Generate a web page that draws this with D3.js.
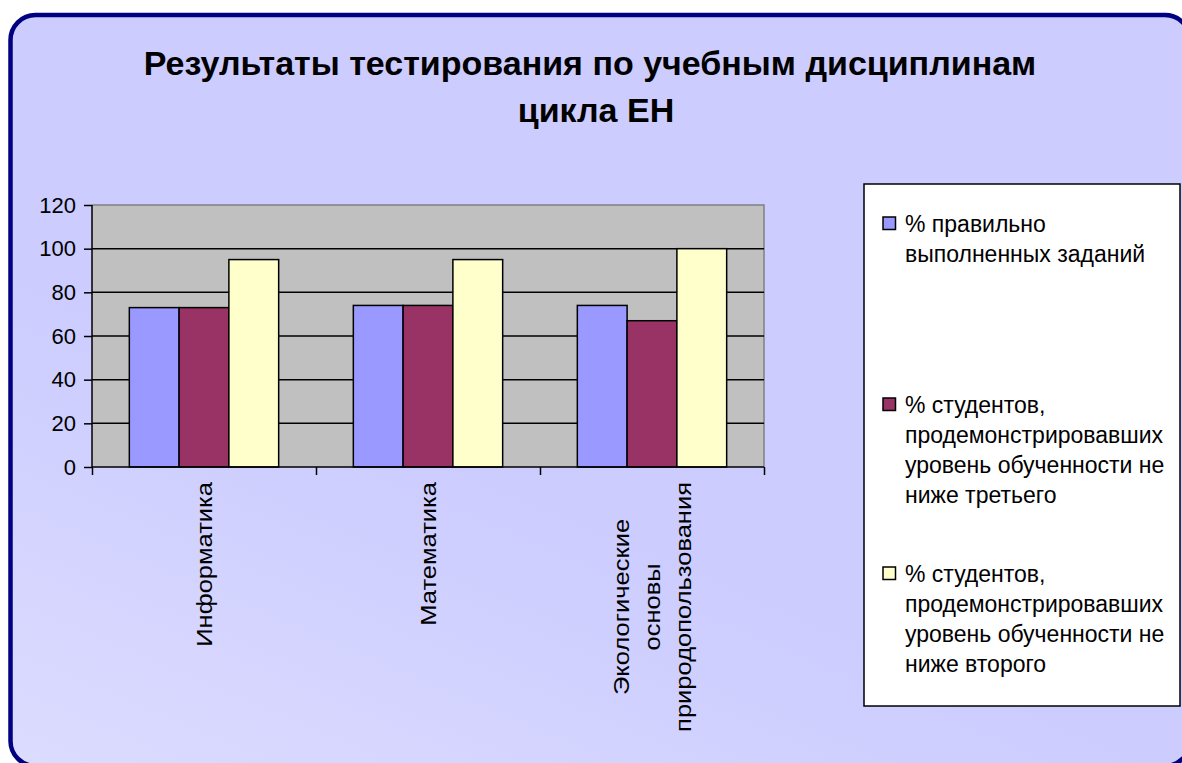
<!DOCTYPE html>
<html lang="ru">
<head>
    <meta charset="UTF-8" />
    <title>Результаты тестирования</title>
    <script src="https://d3js.org/d3.v7.min.js"></script>
    <style>
        body { margin: 0; background: #fff; }
        svg text { font-family: "Liberation Sans", Arial, sans-serif; fill: #000; }
    </style>
</head>
<body>
    <script>
        var W = 1182, H = 763;

        var categories = ["Информатика", "Математика", "Экологические основы природопользования"];
        var categoryLines = [["Информатика"], ["Математика"], ["Экологические", "основы", "природопользования"]];
        var seriesNames = [
            "% правильно выполненных заданий",
            "% студентов, продемонстрировавших уровень обученности не ниже третьего",
            "% студентов, продемонстрировавших уровень обученности не ниже второго"
        ];
        var legendLines = [
            ["% правильно", "выполненных заданий"],
            ["% студентов,", "продемонстрировавших", "уровень обученности не", "ниже третьего"],
            ["% студентов,", "продемонстрировавших", "уровень обученности не", "ниже второго"]
        ];
        var correct = [73, 74, 74];
        var thirdLevel = [73, 74, 67];
        var secondLevel = [95, 95, 100];
        var yTicks = [0, 20, 40, 60, 80, 100, 120];
        var colors = ["#9999FF", "#993366", "#FFFFCC"];

        var series = [correct, thirdLevel, secondLevel];

        var plot = {left: 92, right: 764, top: 205, bottom: 467};

        var svg = d3.select("body").append("svg")
            .attr("width", W)
            .attr("height", H);

        // фон с градиентом
        var grad = svg.append("defs").append("linearGradient")
            .attr("id", "bg")
            .attr("x1", 0).attr("y1", 1)
            .attr("x2", 0.3).attr("y2", 0.55);
        grad.append("stop").attr("offset", 0).attr("stop-color", "#DCDCFF");
        grad.append("stop").attr("offset", 1).attr("stop-color", "#CCCCFF");

        svg.append("rect")
            .attr("x", 10.5).attr("y", 15)
            .attr("width", 1179.5).attr("height", 751)
            .attr("rx", 25).attr("ry", 25)
            .attr("fill", "url(#bg)")
            .attr("stroke", "#000080")
            .attr("stroke-width", 4.5);

        // заголовок
        svg.append("text")
            .attr("x", 590).attr("y", 75)
            .attr("text-anchor", "middle")
            .style("font-size", "34px").style("font-weight", "bold")
            .text("Результаты тестирования по учебным дисциплинам");
        svg.append("text")
            .attr("x", 596).attr("y", 122)
            .attr("text-anchor", "middle")
            .style("font-size", "34px").style("font-weight", "bold")
            .text("цикла ЕН");

        // шкалы
        var x0 = d3.scaleBand()
            .domain(categories)
            .range([plot.left, plot.right]);
        var x1 = d3.scaleBand()
            .domain(d3.range(series.length))
            .range([0, x0.bandwidth()])
            .paddingOuter(0.75);
        var y = d3.scaleLinear()
            .domain([0, 120])
            .range([plot.bottom, plot.top]);

        // область построения
        svg.append("rect")
            .attr("x", plot.left).attr("y", plot.top)
            .attr("width", plot.right - plot.left)
            .attr("height", plot.bottom - plot.top)
            .attr("fill", "#C0C0C0");
        svg.append("path")
            .attr("d", "M" + plot.left + "," + plot.top + "H" + plot.right + "V" + plot.bottom)
            .attr("fill", "none")
            .attr("stroke", "#808080")
            .attr("stroke-width", 1.5);

        svg.append("g")
            .selectAll("line")
            .data(yTicks.filter(function(d){ return d > 0 && d < 120; }))
            .enter().append("line")
            .attr("x1", plot.left).attr("x2", plot.right)
            .attr("y1", function(d){ return y(d); })
            .attr("y2", function(d){ return y(d); })
            .attr("stroke", "#000")
            .attr("stroke-width", 1.5);

        // столбцы
        var groups = svg.append("g")
            .selectAll("g")
            .data(categories)
            .enter().append("g")
            .attr("transform", function(d){ return "translate(" + x0(d) + ",0)"; });
        groups.selectAll("rect")
            .data(function(d, i){
                return series.map(function(s, k){ return {k: k, v: s[i]}; });
            })
            .enter().append("rect")
            .attr("x", function(d){ return x1(d.k); })
            .attr("y", function(d){ return y(d.v); })
            .attr("width", x1.bandwidth())
            .attr("height", function(d){ return y(0) - y(d.v); })
            .attr("fill", function(d){ return colors[d.k]; })
            .attr("stroke", "#000")
            .attr("stroke-width", 1.5);

        // оси
        var yAxis = svg.append("g")
            .attr("transform", "translate(" + plot.left + ",0)")
            .call(d3.axisLeft(y).tickValues(yTicks).tickSize(8).tickPadding(8));
        yAxis.selectAll("path, line").attr("stroke", "#000").attr("stroke-width", 1.5);
        yAxis.select(".domain").attr("d", "M0," + plot.top + "V" + plot.bottom);
        yAxis.selectAll("text")
            .style("font-size", "22px")
            .style("font-family", "'Liberation Sans', Arial, sans-serif")
            .attr("fill", "#000");

        var xBounds = d3.scaleLinear()
            .domain([0, categories.length])
            .range([plot.left, plot.right]);
        var xAxis = svg.append("g")
            .attr("transform", "translate(0," + plot.bottom + ")")
            .call(d3.axisBottom(xBounds).tickValues(d3.range(categories.length + 1)).tickSize(8).tickFormat(""));
        xAxis.selectAll("path, line").attr("stroke", "#000").attr("stroke-width", 1.5);
        xAxis.select(".domain").attr("d", "M" + plot.left + ",0H" + plot.right);

        // подписи категорий (повёрнуты, немного растянуты вдоль строки)
        var lineStep = 31;
        var labels = svg.append("g")
            .selectAll("g")
            .data(categories)
            .enter().append("g")
            .attr("transform", function(d){
                return "translate(" + (x0(d) + x0.bandwidth() / 2) + "," + (plot.bottom + 15) + ") rotate(-90) scale(1.16,1)";
            });
        labels.each(function(d, i){
            var g = d3.select(this);
            var lines = categoryLines[i];
            var texts = g.selectAll("text")
                .data(lines)
                .enter().append("text")
                .attr("dy", "0.35em")
                .attr("y", function(l, j){ return (j - (lines.length - 1) / 2) * lineStep; })
                .attr("text-anchor", "middle")
                .style("font-size", "22px")
                .text(function(l){ return l; });
            var maxW = d3.max(texts.nodes(), function(n){ return n.getComputedTextLength(); });
            texts.attr("x", -maxW / 2);
        });

        // легенда
        var legend = {x: 864, y: 184, w: 316, h: 522};
        svg.append("rect")
            .attr("x", legend.x).attr("y", legend.y)
            .attr("width", legend.w).attr("height", legend.h)
            .attr("fill", "#fff")
            .attr("stroke", "#000")
            .attr("stroke-width", 1.5);

        var legendBase = [232, 413, 582];
        var items = svg.append("g")
            .selectAll("g")
            .data(seriesNames)
            .enter().append("g")
            .attr("transform", function(d, i){ return "translate(0," + legendBase[i] + ")"; });
        items.append("rect")
            .attr("x", 883).attr("y", -15)
            .attr("width", 12.5).attr("height", 12.5)
            .attr("fill", function(d, i){ return colors[i]; })
            .attr("stroke", "#000")
            .attr("stroke-width", 1.5);
        items.each(function(d, i){
            d3.select(this).selectAll("text")
                .data(legendLines[i])
                .enter().append("text")
                .attr("x", 905)
                .attr("y", function(l, j){ return j * 30; })
                .style("font-size", "23px")
                .text(function(l){ return l; });
        });
    </script>
</body>
</html>
